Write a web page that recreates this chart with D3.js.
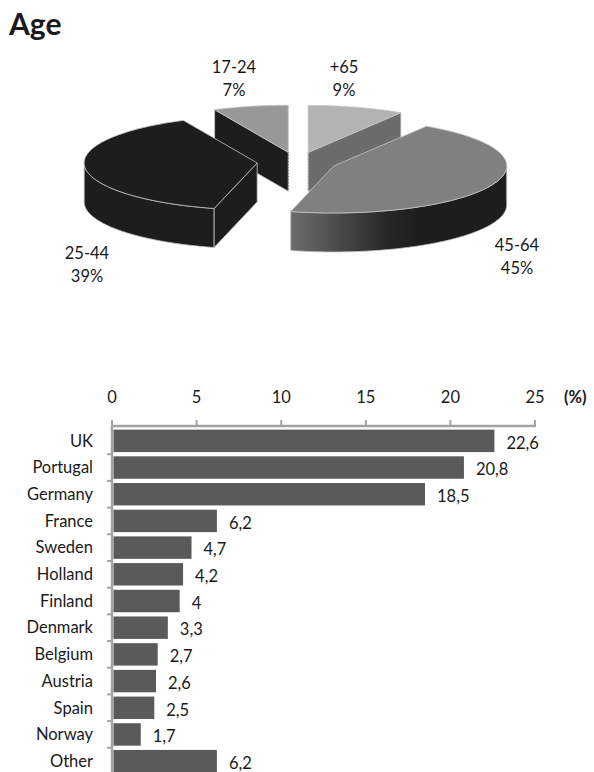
<!DOCTYPE html>
<html>
<head>
<meta charset="utf-8">
<script src="https://cdn.jsdelivr.net/npm/d3@7"></script>
<style>
  html, body { margin: 0; padding: 0; background: #fff; }
  svg { display: block; }
  text { font-family: Lato, "Open Sans", sans-serif; fill: #1a1a1a; }
</style>
</head>
<body>
<script>
// ---------- data ----------
const ageLabels = ["+65", "45-64", "25-44", "17-24"];
const ageValues = [9, 45, 39, 7];

const countries = ["UK", "Portugal", "Germany", "France", "Sweden", "Holland", "Finland",
                   "Denmark", "Belgium", "Austria", "Spain", "Norway", "Other"];
const shares = [22.6, 20.8, 18.5, 6.2, 4.7, 4.2, 4, 3.3, 2.7, 2.6, 2.5, 1.7, 6.2];
const xTicks = [0, 5, 10, 15, 20, 25];

// ---------- svg ----------
const W = 594, H = 772;
const FS = "16.5px";
const svg = d3.select("body").append("svg").attr("width", W).attr("height", H);

svg.append("text").attr("x", 9).attr("y", 35)
  .style("font-size", "30px").style("font-weight", "bold").style("fill", "#1a1a1a")
  .text("Age");

// ---------- 3D exploded pie ----------
const C = { x: 297, y: 162 }, RX = 173, RY = 47, DEPTH = 39, EX = 40, EY = 10;
const sliceStyle = {
  "+65":   { top: "#b3b3b3", side: "#6c6c6c", wall: "#6c6c6c" },
  "45-64": { top: "#808080", side: "#1d1d1d", wall: "url(#wallGrad)" },
  "25-44": { top: "#1d1d1d", side: "#1d1d1d", wall: "#1d1d1d" },
  "17-24": { top: "#989898", side: "#1d1d1d", wall: "#1d1d1d" }
};
const labelPos = {
  "+65":   { x: 344, y: 67 },
  "45-64": { x: 517, y: 245 },
  "25-44": { x: 87,  y: 253 },
  "17-24": { x: 234, y: 67 }
};

const defs = svg.append("defs");
const grad = defs.append("linearGradient").attr("id", "wallGrad")
  .attr("gradientUnits", "userSpaceOnUse").attr("x1", 290).attr("x2", 420).attr("y1", 0).attr("y2", 0);
grad.append("stop").attr("offset", "0%").attr("stop-color", "#6e6e6e");
grad.append("stop").attr("offset", "75%").attr("stop-color", "#262626");
grad.append("stop").attr("offset", "100%").attr("stop-color", "#1d1d1d");

const arcs = d3.pie().sort(null).value(d => d)(ageValues)
  .map((a, i) => {
    const mid = (a.startAngle + a.endAngle) / 2;
    return { ...a, label: ageLabels[i],
      ax: C.x + EX * Math.sin(mid), ay: C.y - EY * Math.cos(mid) };
  });

const line = d3.line();
function pt(s, ang, dz) {
  return [s.ax + RX * Math.sin(ang), s.ay - RY * Math.cos(ang) + dz];
}
function arcPts(s, a0, a1, dz) {
  const n = Math.max(2, Math.ceil(Math.abs(a1 - a0) / 0.02));
  return d3.range(n + 1).map(i => pt(s, a0 + (a1 - a0) * i / n, dz));
}

const pieG = svg.append("g");
const order = arcs.slice().sort((a, b) => a.ay - b.ay);
order.forEach(s => {
  const st = sliceStyle[s.label];
  const g = pieG.append("g");
  const strokeC = "#c4c4c4";
  // outer wall (front-facing part)
  const w0 = Math.max(s.startAngle, Math.PI / 2), w1 = Math.min(s.endAngle, 3 * Math.PI / 2);
  if (w1 > w0) {
    const pts = arcPts(s, w0, w1, 0).concat(arcPts(s, w1, w0, DEPTH));
    g.append("path").attr("d", line(pts) + "Z")
      .attr("fill", st.wall).attr("stroke", strokeC).attr("stroke-width", 0.8);
  }
  // radial faces
  [[s.startAngle, -Math.sin(s.startAngle)], [s.endAngle, Math.sin(s.endAngle)]].forEach(([ang, facing]) => {
    const p = pt(s, ang, 0), q = pt(s, ang, DEPTH);
    if (facing > 1e-6) {
      g.append("path").attr("d", line([[s.ax, s.ay], p, q, [s.ax, s.ay + DEPTH]]) + "Z")
        .attr("fill", st.side).attr("stroke", strokeC).attr("stroke-width", 0.8)
        .attr("stroke-linejoin", "round");
    } else if (Math.abs(facing) <= 1e-6) {
      g.append("path").attr("d", line([[s.ax, s.ay], [s.ax, s.ay + DEPTH]]))
        .attr("fill", "none").attr("stroke", "#555").attr("stroke-width", 1.2)
        .attr("stroke-dasharray", "1,2");
    }
  });
  // top face
  const topPts = [[s.ax, s.ay]].concat(arcPts(s, s.startAngle, s.endAngle, 0));
  g.append("path").attr("d", line(topPts) + "Z")
    .attr("fill", st.top).attr("stroke", strokeC).attr("stroke-width", 0.8)
    .attr("stroke-linejoin", "round");
});

arcs.forEach(s => {
  const lp = labelPos[s.label];
  const t = svg.append("text").attr("text-anchor", "middle").style("font-size", FS);
  t.append("tspan").attr("x", lp.x).attr("y", lp.y).attr("dy", "0.35em").text(s.label);
  t.append("tspan").attr("x", lp.x).attr("y", lp.y + 23).attr("dy", "0.35em").text(s.value + "%");
});

// ---------- bar chart ----------
const x = d3.scaleLinear().domain([0, 25]).range([112, 535]);
const y = d3.scaleBand().domain(countries).range([427.5, 774.5])
  .paddingInner(0.16).paddingOuter(0.08);

const axisC = "#a3a3a3";
const barG = svg.append("g");

// top axis
barG.append("line").attr("x1", x(0)).attr("x2", x(25)).attr("y1", 426).attr("y2", 426)
  .attr("stroke", axisC).attr("stroke-width", 2.5);
barG.selectAll(".xt").data(xTicks).join("line")
  .attr("x1", d => x(d)).attr("x2", d => x(d)).attr("y1", 420).attr("y2", 427)
  .attr("stroke", axisC).attr("stroke-width", 2);
barG.selectAll(".xl").data(xTicks).join("text")
  .attr("x", d => x(d)).attr("y", 397).attr("dy", "0.35em").attr("text-anchor", "middle")
  .style("font-size", FS).text(d => d);
barG.append("text").attr("x", 564).attr("y", 397).attr("dy", "0.35em")
  .style("font-size", FS).style("font-weight", "bold").text("(%)");

// left axis
barG.append("line").attr("x1", x(0)).attr("x2", x(0)).attr("y1", 426).attr("y2", 772)
  .attr("stroke", axisC).attr("stroke-width", 2.5);
const bounds = countries.map(c => y(c) - (y.step() - y.bandwidth()) / 2);
barG.selectAll(".yt").data(bounds.slice(1)).join("line")
  .attr("x1", x(0) - 5).attr("x2", x(0)).attr("y1", d => d).attr("y2", d => d)
  .attr("stroke", axisC).attr("stroke-width", 2);

// bars
barG.selectAll(".bar").data(countries).join("rect")
  .attr("x", x(0) + 1.5).attr("y", d => y(d))
  .attr("width", (d, i) => x(shares[i]) - x(0) - 1.5).attr("height", y.bandwidth())
  .attr("fill", "#5a5a5a");

// category labels
barG.selectAll(".cl").data(countries).join("text")
  .attr("x", 93).attr("y", d => y(d) + y.bandwidth() / 2).attr("dy", "0.35em")
  .attr("text-anchor", "end").style("font-size", FS).text(d => d);

// value labels
barG.selectAll(".vl").data(countries).join("text")
  .attr("x", (d, i) => x(shares[i]) + 12).attr("y", d => y(d) + y.bandwidth() / 2 + 2).attr("dy", "0.35em")
  .style("font-size", FS).text((d, i) => String(shares[i]).replace(".", ","));
</script>
</body>
</html>
